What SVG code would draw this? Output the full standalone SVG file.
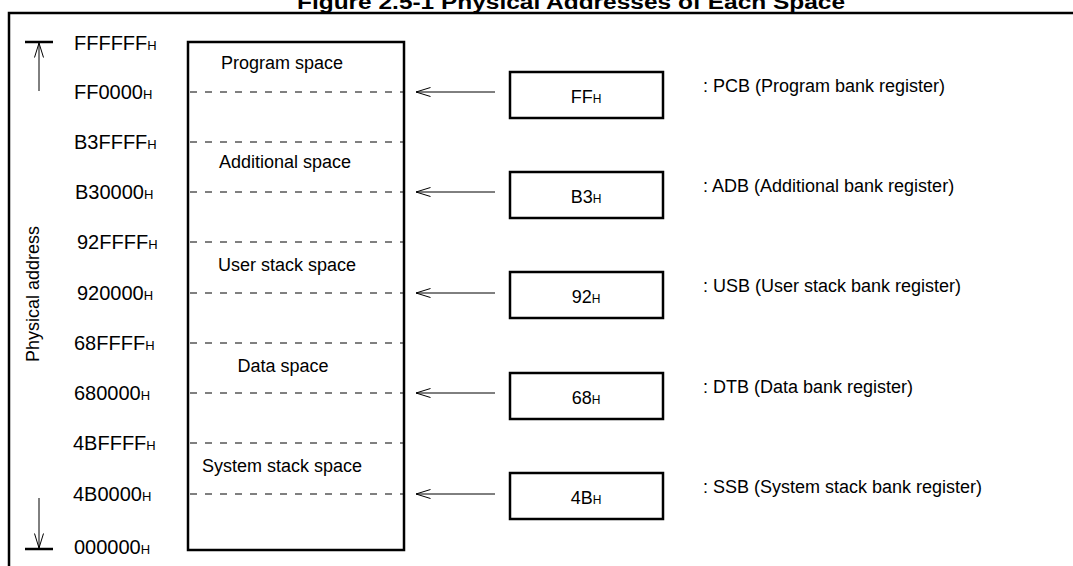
<svg xmlns="http://www.w3.org/2000/svg" width="1073" height="566" viewBox="0 0 1073 566">
  <style>
    text { font-family: "Liberation Sans", Arial, sans-serif; fill: #000; }
    .title { font-size: 20px; font-weight: bold; }
    .lbl { font-size: 18px; }
    .addr { font-size: 20px; }
    .sub { font-size: 12px; }
    .asub { font-size: 13px; }
    .frame { fill: none; stroke: #000; stroke-width: 2.5; }
    .box { fill: #fff; stroke: #000; stroke-width: 2.5; }
    .dash { stroke: #000; stroke-width: 1; stroke-dasharray: 7 8; }
    .thin { stroke: #000; stroke-width: 1; fill: none; }
    .bar { stroke: #000; stroke-width: 2.5; }
  </style>
  <defs>
    <!-- open "<" arrowhead, tip at the end of the line -->
    <marker id="open" viewBox="0 0 16 10" refX="15.5" refY="5" markerWidth="16" markerHeight="10" markerUnits="userSpaceOnUse" orient="auto">
      <path d="M1,0.5 L15.5,5 L1,9.5" fill="none" stroke="#000" stroke-width="1"/>
    </marker>
  </defs>
  <rect width="1073" height="566" fill="#fff"/>

  <!-- title (clipped at the top edge) -->
  <text class="title" x="571" y="9" text-anchor="middle" textLength="548" lengthAdjust="spacingAndGlyphs">Figure 2.5-1 Physical Addresses of Each Space</text>

  <!-- outer frame: top rule and left rule -->
  <path class="frame" d="M9,566 V13 H1073"/>

  <!-- physical address axis -->
  <g id="axis">
    <line class="bar" x1="25" y1="42" x2="53" y2="42"/>
    <line class="bar" x1="25" y1="549" x2="53" y2="549"/>
    <line class="thin" x1="39" y1="91" x2="39" y2="43" marker-end="url(#open)"/>
    <line class="thin" x1="39" y1="498" x2="39" y2="548" marker-end="url(#open)"/>
    <text class="lbl" transform="translate(39,294) rotate(-90)" text-anchor="middle">Physical address</text>
  </g>

  <!-- address labels -->
  <g id="addresses">
    <text class="addr" x="74" y="50">FFFFFF<tspan class="asub">H</tspan></text>
    <text class="addr" x="74" y="99">FF0000<tspan class="asub">H</tspan></text>
    <text class="addr" x="74" y="149">B3FFFF<tspan class="asub">H</tspan></text>
    <text class="addr" x="75" y="199">B30000<tspan class="asub">H</tspan></text>
    <text class="addr" x="77" y="249">92FFFF<tspan class="asub">H</tspan></text>
    <text class="addr" x="77" y="300">920000<tspan class="asub">H</tspan></text>
    <text class="addr" x="74" y="350">68FFFF<tspan class="asub">H</tspan></text>
    <text class="addr" x="74" y="400">680000<tspan class="asub">H</tspan></text>
    <text class="addr" x="73" y="450">4BFFFF<tspan class="asub">H</tspan></text>
    <text class="addr" x="73" y="501">4B0000<tspan class="asub">H</tspan></text>
    <text class="addr" x="74" y="554">000000<tspan class="asub">H</tspan></text>
  </g>

  <!-- memory map -->
  <g id="memory">
    <rect class="box" x="188" y="42" width="216" height="508"/>
    <line class="dash" x1="190" y1="92" x2="403" y2="92"/>
    <line class="dash" x1="190" y1="142" x2="403" y2="142"/>
    <line class="dash" x1="190" y1="192" x2="403" y2="192"/>
    <line class="dash" x1="190" y1="242" x2="403" y2="242"/>
    <line class="dash" x1="190" y1="293" x2="403" y2="293"/>
    <line class="dash" x1="190" y1="343" x2="403" y2="343"/>
    <line class="dash" x1="190" y1="393" x2="403" y2="393"/>
    <line class="dash" x1="190" y1="443" x2="403" y2="443"/>
    <line class="dash" x1="190" y1="494" x2="403" y2="494"/>
    <text class="lbl" x="282" y="69" text-anchor="middle">Program space</text>
    <text class="lbl" x="285" y="168" text-anchor="middle">Additional space</text>
    <text class="lbl" x="287" y="271" text-anchor="middle">User stack space</text>
    <text class="lbl" x="283" y="372" text-anchor="middle">Data space</text>
    <text class="lbl" x="282" y="472" text-anchor="middle">System stack space</text>
  </g>

  <!-- bank registers -->
  <g id="reg-pcb">
    <rect class="box" x="510" y="72" width="153" height="46"/>
    <text class="lbl" x="586" y="103" text-anchor="middle">FF<tspan class="sub">H</tspan></text>
    <text class="lbl" x="703" y="92">: PCB (Program bank register)</text>
  </g>
  <g id="reg-adb">
    <rect class="box" x="510" y="172" width="153" height="46"/>
    <text class="lbl" x="586" y="203" text-anchor="middle">B3<tspan class="sub">H</tspan></text>
    <text class="lbl" x="703" y="192">: ADB (Additional bank register)</text>
  </g>
  <g id="reg-usb">
    <rect class="box" x="510" y="272" width="153" height="46"/>
    <text class="lbl" x="586" y="303" text-anchor="middle">92<tspan class="sub">H</tspan></text>
    <text class="lbl" x="703" y="292">: USB (User stack bank register)</text>
  </g>
  <g id="reg-dtb">
    <rect class="box" x="510" y="373" width="153" height="46"/>
    <text class="lbl" x="586" y="404" text-anchor="middle">68<tspan class="sub">H</tspan></text>
    <text class="lbl" x="703" y="393">: DTB (Data bank register)</text>
  </g>
  <g id="reg-ssb">
    <rect class="box" x="510" y="473" width="153" height="46"/>
    <text class="lbl" x="586" y="504" text-anchor="middle">4B<tspan class="sub">H</tspan></text>
    <text class="lbl" x="703" y="493">: SSB (System stack bank register)</text>
  </g>

  <!-- register-to-address arrows -->
  <g id="connectors">
    <line class="thin" x1="495" y1="92" x2="416" y2="92" marker-end="url(#open)"/>
    <line class="thin" x1="495" y1="192" x2="416" y2="192" marker-end="url(#open)"/>
    <line class="thin" x1="495" y1="293" x2="416" y2="293" marker-end="url(#open)"/>
    <line class="thin" x1="495" y1="393" x2="416" y2="393" marker-end="url(#open)"/>
    <line class="thin" x1="495" y1="494" x2="416" y2="494" marker-end="url(#open)"/>
  </g>
</svg>
